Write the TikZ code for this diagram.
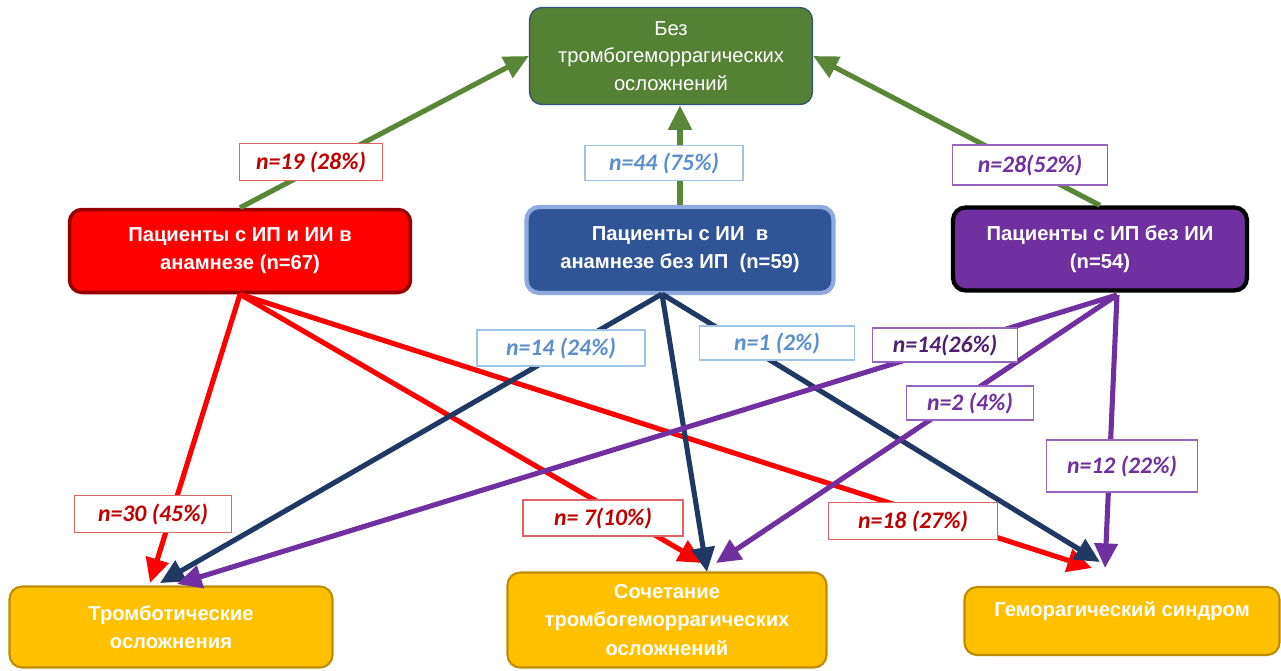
\documentclass[tikz,border=0pt]{standalone}
\usepackage{fontspec}
\setmainfont{Liberation Sans}
\newfontfamily\lblfont{Carlito}
\usetikzlibrary{arrows.meta}
\definecolor{FillTop}{RGB}{84,130,53}
\definecolor{EdgeTop}{RGB}{47,85,120}
\definecolor{ArrGreen}{RGB}{90,135,55}
\definecolor{FillRed}{RGB}{255,0,0}
\definecolor{EdgeRed}{RGB}{150,0,0}
\definecolor{FillBlue}{RGB}{47,85,151}
\definecolor{EdgeBlue}{RGB}{143,170,220}
\definecolor{FillPur}{RGB}{112,48,160}
\definecolor{FillOut}{RGB}{255,192,0}
\definecolor{EdgeOut}{RGB}{190,140,0}
\definecolor{ArrNavy}{RGB}{31,56,100}
\definecolor{TxtRed}{RGB}{192,0,0}
\definecolor{LineRed}{RGB}{224,100,100}
\definecolor{TxtBlue}{RGB}{91,143,207}
\definecolor{LineBlue}{RGB}{157,195,230}
\definecolor{TxtPur}{RGB}{112,48,160}
\definecolor{LinePur}{RGB}{150,100,190}

\begin{document}
\begin{tikzpicture}[x=0.02cm, y=-0.02cm,
    grp/.style={rounded corners=0.25cm, align=center, text=white, inner sep=2pt,
        font=\fontsize{11.5}{16}\selectfont\bfseries},
    topbox/.style={grp, fill=FillTop, draw=EdgeTop, line width=0.8pt,
        font=\fontsize{11.5}{15.5}\selectfont},
    outbox/.style={grp, fill=FillOut, draw=EdgeOut, line width=1.2pt},
    lbl/.style={draw, fill=white, line width=0.8pt, inner sep=2pt,
        font=\lblfont\fontsize{13.5}{15}\selectfont\bfseries\itshape},
    arr/.style={-{Triangle[length=14pt,width=13pt]}, line width=2.9pt}
]
\useasboundingbox (0,0) rectangle (1281,670);

%% ---- BOXES ----
\node[topbox, minimum width=5.66cm, minimum height=1.94cm] (none) at (671,56)
    {Без\\тромбогеморрагических\\осложнений};
\node[grp, fill=FillRed, draw=EdgeRed, line width=2pt,
      minimum width=6.82cm, minimum height=1.66cm] (both) at (240,251)
    {Пациенты с ИП и ИИ в\\анамнезе (n=67)};
\node[grp, fill=FillBlue, draw=EdgeBlue, line width=2.4pt,
      minimum width=6.14cm, minimum height=1.72cm] (onlyii) at (680,250)
    {Пациенты с ИИ~~в\\анамнезе без ИП~~(n=59)};
\node[grp, fill=FillPur, draw=black, line width=2.4pt,
      minimum width=5.88cm, minimum height=1.66cm] (onlyip) at (1100,249)
    {Пациенты с ИП без ИИ\\(n=54)};
\node[outbox, minimum width=6.46cm, minimum height=1.62cm] (thromb) at (171,627)
    {Тромботические\\осложнения};
\node[outbox, minimum width=6.38cm, minimum height=1.9cm] (combo) at (667,620)
    {Сочетание\\тромбогеморрагических\\осложнений};
\node[outbox, minimum width=6.3cm, minimum height=1.36cm,
      text height=0.35cm, text depth=0.55cm] (hemor) at (1122,621)
    {Геморагический синдром};

%% ---- free ends ----
\coordinate (ii0) at (662,294);
\coordinate (ip0) at (1117,295);
\coordinate (thr1) at (150,583);
\coordinate (thr2) at (160,583);
\coordinate (thr3) at (177,584);
\coordinate (com1) at (703,563);
\coordinate (com2) at (707,572);
\coordinate (com3) at (716,563);
\coordinate (hem1) at (1092,568);
\coordinate (hem2) at (1100,562);
\coordinate (hem3) at (1105,568);

%% ---- ARROWS up ----
\draw[arr, ArrGreen] (both.north) -- (none.west);
\draw[arr, ArrGreen] (onlyii.north) -- (onlyii.north |- none.south);
\draw[arr, ArrGreen] (onlyip.north) -- (none.east);

%% ---- ARROWS down ----
\draw[arr, FillRed] (both.south) -- (thr1);
\draw[arr, FillRed] (both.south) -- (com1);
\draw[arr, FillRed] (both.south) -- (hem1);
\draw[arr, ArrNavy] (ii0) -- (thr2);
\draw[arr, ArrNavy] (ii0) -- (com2);
\draw[arr, ArrNavy] (ii0) -- (hem2);
\draw[arr, FillPur] (ip0) -- (thr3);
\draw[arr, FillPur] (ip0) -- (com3);
\draw[arr, FillPur] (ip0) -- (hem3);

%% ---- LABELS ----
\node[lbl, draw=LineRed, text=TxtRed, minimum width=2.86cm, minimum height=0.74cm] (l19) at (311,162) {n=19 (28\%)};
\node[lbl, draw=LineBlue, text=TxtBlue, minimum width=3.16cm, minimum height=0.7cm] (l44) at (664,163) {n=44 (75\%)};
\node[lbl, draw=LinePur, text=TxtPur, minimum width=3.1cm, minimum height=0.8cm] (l28) at (1030,165) {n=28(52\%)};
\node[lbl, draw=LineBlue, text=TxtBlue, minimum width=3.36cm, minimum height=0.72cm] (l14a) at (561,348) {n=14 (24\%)};
\node[lbl, draw=LineBlue, text=TxtBlue, minimum width=3.1cm, minimum height=0.68cm] (l1) at (777,343) {n=1 (2\%)};
\node[lbl, draw=LinePur, text=TxtPur!70!black, minimum width=2.9cm, minimum height=0.68cm] (l14b) at (945,345) {n=14(26\%)};
\node[lbl, draw=LinePur, text=TxtPur, minimum width=2.54cm, minimum height=0.68cm] (l2) at (970,403) {n=2 (4\%)};
\node[lbl, draw=LinePur, text=TxtPur, minimum width=3.02cm, minimum height=1.04cm] (l12) at (1122,466) {n=12 (22\%)};
\node[lbl, draw=LineRed, text=TxtRed, minimum width=3.14cm, minimum height=0.74cm] (l30) at (153,514) {n=30 (45\%)};
\node[lbl, draw=LineRed, text=TxtRed, minimum width=3.2cm, minimum height=0.72cm] (l7) at (603,518) {n= 7(10\%)};
\node[lbl, draw=LineRed, text=TxtRed, minimum width=3.38cm, minimum height=0.74cm] (l18) at (913,521) {n=18 (27\%)};

\end{tikzpicture}
\end{document}
